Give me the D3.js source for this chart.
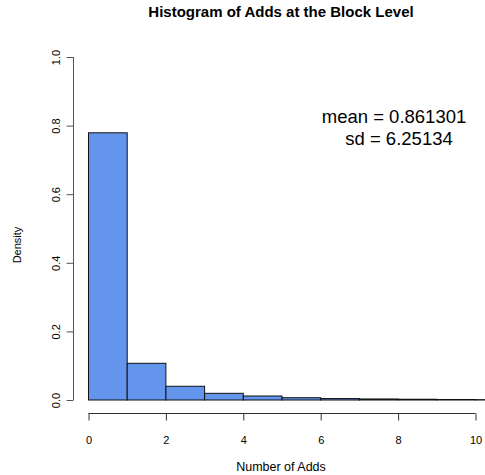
<!DOCTYPE html>
<html><head><meta charset="utf-8">
<script src="https://cdn.jsdelivr.net/npm/d3@7"></script>
<style>body{margin:0;background:#fff}svg{display:block}text{font-family:"Liberation Sans",Arial,Helvetica,sans-serif}</style>
</head><body><svg id="c" width="485" height="475"></svg>
<script>
const binStarts = [0,1,2,3,4,5,6,7,8,9,10];
const densities = [0.779,0.107,0.040,0.0195,0.0117,0.0067,0.0042,0.003,0.0022,0.0015,0.001];
const xTicks = [0,2,4,6,8,10];
const yTicks = [0,0.2,0.4,0.6,0.8,1.0];
const title = "Histogram of Adds at the Block Level";
const statLines = ["mean = 0.861301","sd = 6.25134"];

const svg = d3.select("#c");
const x = d3.scaleLinear().domain([0,10]).range([88.5,475.5]);
const y = d3.scaleLinear().domain([0,1]).range([400,57]);

const g = svg.append("g");
g.append("g").selectAll("rect").data(binStarts).join("rect")
  .attr("x", d=>x(d)).attr("width", d=>x(d+1)-x(d))
  .attr("y", (d,i)=>y(densities[i])).attr("height",(d,i)=>y(0)-y(densities[i]))
  .attr("fill","#6495ED").attr("stroke","#111").attr("stroke-width",1);

const xa = svg.append("g").attr("transform","translate(0,413.5)")
  .call(d3.axisBottom(x).tickValues(xTicks).tickFormat(d3.format("d")).tickSize(7).tickSizeOuter(0));
xa.select(".domain").attr("d",`M${x(0)},0H${x(10)}`).attr("stroke","#333");
xa.selectAll(".tick line").attr("stroke","#333");
xa.selectAll("text").attr("font-size",11).attr("dy","1.9em").attr("fill","#000");

const ya = svg.append("g").attr("transform","translate(73.5,0)")
  .call(d3.axisLeft(y).tickValues(yTicks).tickFormat(d3.format(".1f")).tickSize(7).tickSizeOuter(0));
ya.select(".domain").attr("d",`M0,${y(0)}V${y(1)}`).attr("stroke","#555");
ya.selectAll(".tick line").attr("stroke","#555");
ya.selectAll("text").attr("font-size",11).attr("transform","rotate(-90)")
  .attr("x",0).attr("y",-14).attr("dy","0").attr("text-anchor","middle").attr("fill","#000");

svg.append("text").attr("x",281).attr("y",17).attr("text-anchor","middle")
  .attr("font-size",15).attr("font-weight","bold").text(title);
svg.append("text").attr("x",281).attr("y",471).attr("text-anchor","middle")
  .attr("font-size",12.5).text("Number of Adds");
svg.append("text").attr("transform","translate(21,245) rotate(-90)").attr("text-anchor","middle")
  .attr("font-size",11).text("Density");
const statX = [394,399];
svg.append("g").selectAll("text").data(statLines).join("text")
  .attr("x",(d,i)=>statX[i]).attr("y",(d,i)=>123+i*22).attr("text-anchor","middle")
  .attr("font-size",18.5).text(d=>d);
</script></body></html>
